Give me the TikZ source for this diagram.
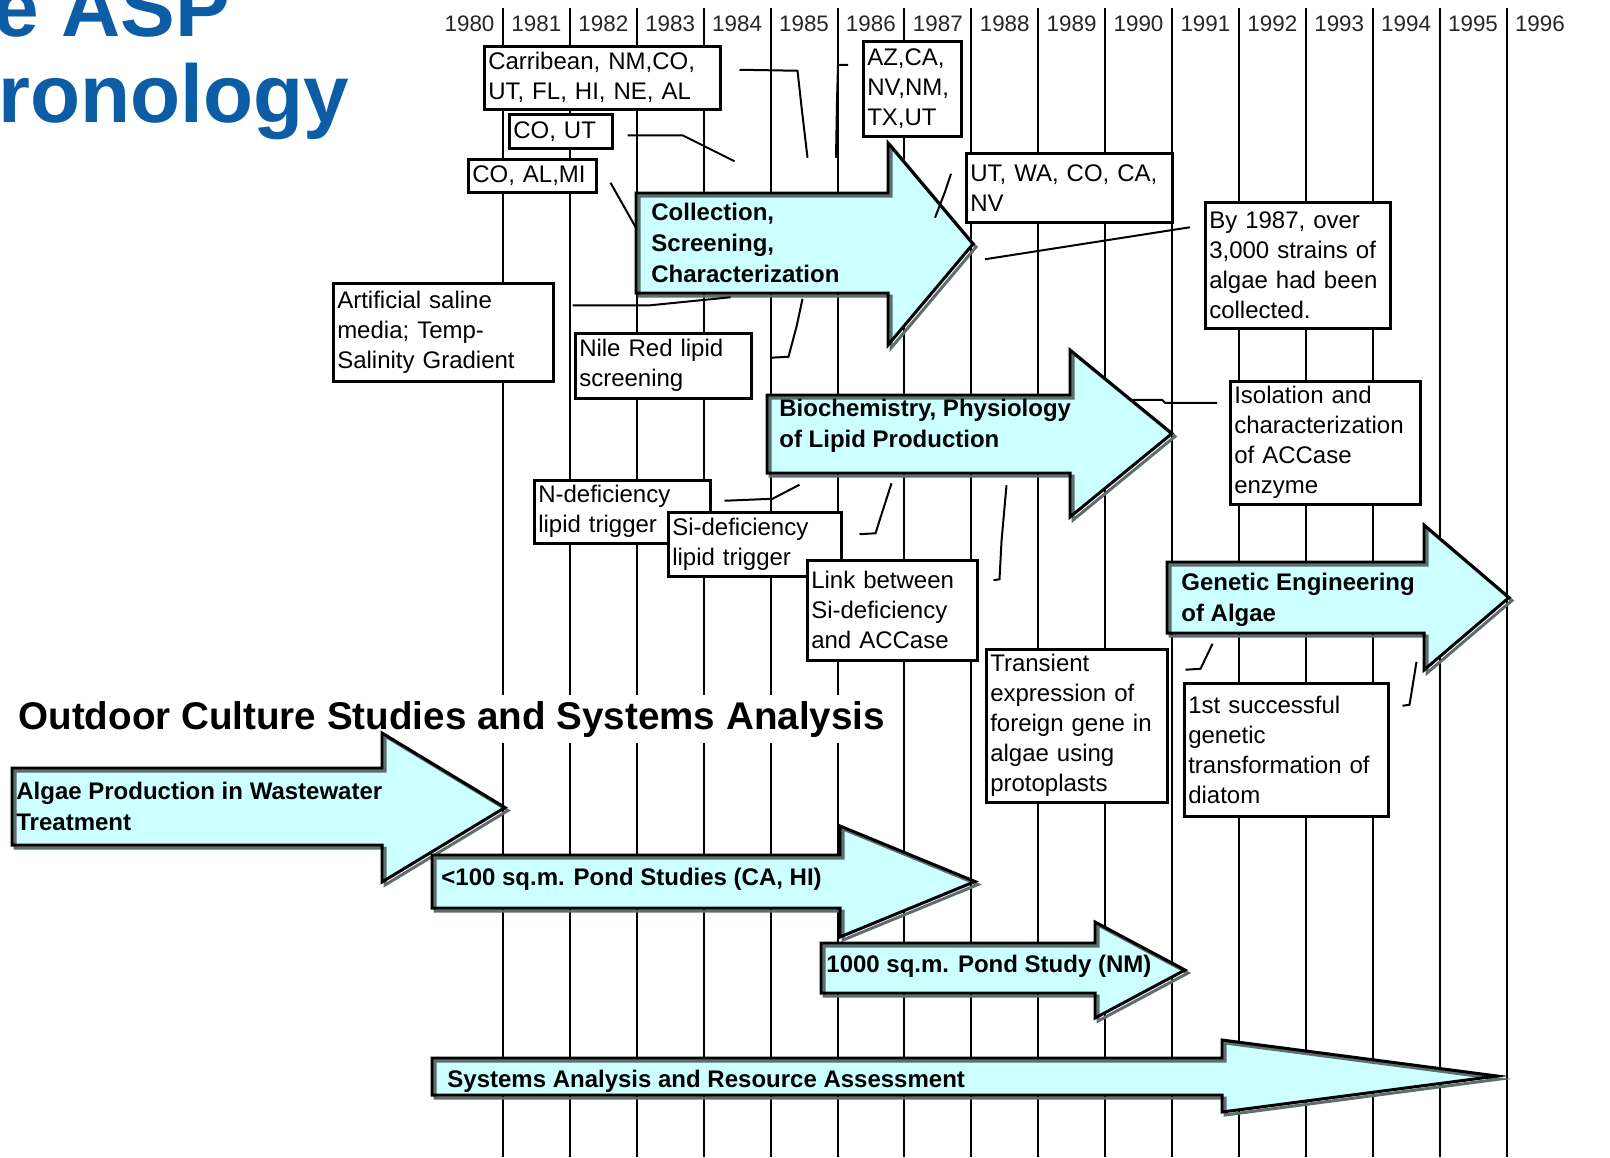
\documentclass[tikz,border=0pt]{standalone}
\usepackage{fontspec}
\setmainfont{Liberation Sans}
\usepackage{xcolor}

\definecolor{stagefill}{HTML}{CCFFFF}
\definecolor{stageshadow}{HTML}{5E6E6E}
\definecolor{titleblue}{HTML}{0C5DA5}

\tikzset{
  grid line/.style={line width=1pt},
  callout/.style={line width=1pt},
  year/.style={inner sep=0pt, text=black!85, font=\fontsize{11.2}{13}\selectfont},
  title/.style={anchor=base west, inner sep=0pt, text=titleblue, font=\fontsize{41}{41}\selectfont\bfseries},
  heading/.style={anchor=base west, fill=white, inner xsep=0pt, inner ysep=3pt, font=\fontsize{19.3}{23}\selectfont\bfseries},
  note/.style 2 args={draw, fill=white, line width=1.25pt, anchor=north west, align=left,
    inner xsep=2pt, inner ysep=0pt, text width=#1pt, minimum height=#2pt, font=\fontsize{12}{15}\selectfont},
  stage/.style={fill=stagefill},
  stage shadow/.style={draw=stageshadow, line width=1.5pt, line join=miter},
  stage edge/.style={draw=black, line width=1.5pt, line join=miter},
  stage label/.style={anchor=west, align=left, inner sep=0pt, font=\fontsize{12}{15.5}\selectfont\bfseries},
}

% tail x, body top, body bottom, head x, head top, head bottom, tip x
\newcommand{\stagearrow}[7]{%
  \fill[stage] (#1,#2) -- (#4,#2) -- (#4,#5) -- (#7,{(#5+#6)/2}) -- (#4,#6) -- (#4,#3) -- (#1,#3) -- cycle;
  \draw[stage shadow, shift={(3,3)}] (#1,#2) -- (#4,#2) -- (#4,#5) -- (#7,{(#5+#6)/2}) -- (#4,#6) -- (#4,#3) -- (#1,#3) -- cycle;
  \draw[stage edge] (#1,#2) -- (#4,#2) -- (#4,#5) -- (#7,{(#5+#6)/2}) -- (#4,#6) -- (#4,#3) -- (#1,#3) -- cycle;
}

\begin{document}
\begin{tikzpicture}[x=0.5pt, y=-0.5pt]
  \useasboundingbox (0,0) rectangle (1610,1157);

  % Title
  \node[title] (titleasp) at (-7,36) {e ASP};
  \node[title] (titlechron) at (-2,122) {ronology};

  % Years and grid
  \foreach \yr [count=\k from 0] in {1980,...,1996}
    \node[year] (y\yr) at ({469.5+66.9*\k},24) {\yr};
  \foreach \k in {0,...,15}
    \draw[grid line] ({503+66.9*\k},8) -- ({503+66.9*\k},1157);

  % Outdoor heading
  \node[heading] (outdoor) at (18,729) {Outdoor Culture Studies and Systems Analysis};

  % Research stages
  \stagearrow{636}{193}{293}{888}{143}{345}{973}
  \node[stage label] (collect) at (651,243) {Collection,\\Screening,\\Characterization};
  \stagearrow{767}{395}{473}{1070}{350}{517}{1172}
  \node[stage label] (biochem) at (779,426) {Biochemistry, Physiology\\of Lipid Production};
  \stagearrow{1167}{562}{633}{1424}{525}{670}{1509}
  \node[stage label] (genetic) at (1181,600) {Genetic Engineering\\of Algae};

  % Outdoor stages
  \stagearrow{12}{768}{845}{382}{733}{882}{505}
  \node[stage label] (waste) at (16,806) {Algae Production in Wastewater\\Treatment};
  \stagearrow{432}{855}{908}{840}{826}{937}{975}
  \node[stage label] (pond) at (441,879) {<100 sq.m. Pond Studies (CA, HI)};
  \stagearrow{821}{943}{993}{1095}{922}{1018}{1185}
  \node[stage label] (pondnm) at (826,966) {1000 sq.m. Pond Study (NM)};
  \stagearrow{432}{1058}{1095}{1222}{1040}{1112}{1497}
  \node[stage label] (systems) at (447,1081) {Systems Analysis and Resource Assessment};

  % Notes
  \node[note={114}{31.5}] (carib) at (483,45) {Carribean, NM,CO,\\UT, FL, HI, NE, AL};
  \node[note={47.5}{17}] (coU) at (508,113) {CO, UT};
  \node[note={60}{16.5}] (coal) at (467,158) {CO, AL,MI};
  \node[note={45}{47.5}] (az) at (862,40) {AZ,CA,\\NV,NM,\\TX,UT};
  \node[note={99}{34.5}] (utwa) at (965,152) {UT, WA, CO, CA,\\NV};
  \node[note={88.5}{63}] (by87) at (1204,201) {By 1987, over\\3,000 strains of\\algae had been\\collected.};
  \node[note={106}{49}] (saline) at (332,282) {Artificial saline\\media; Temp-\\Salinity Gradient};
  \node[note={84}{32.5}] (nile) at (574,332) {Nile Red lipid\\screening};
  \node[note={84}{31.5}] (ndef) at (533,479) {N-deficiency\\lipid trigger};
  \node[note={82.5}{32}] (sidef) at (667,511) {Si-deficiency\\lipid trigger};
  \node[note={81}{50}] (link) at (806,559) {Link between\\Si-deficiency\\and ACCase};
  \node[note={91}{61.5}] (accase) at (1229,380) {Isolation and\\characterization\\of ACCase\\enzyme};
  \node[note={86.5}{76.5}] (transient) at (985,648) {Transient\\expression of\\foreign gene in\\algae using\\protoplasts};
  \node[note={98}{66.5}] (diatom) at (1183,682) {1st successful\\genetic\\transformation of\\diatom};

  % Callouts
  \draw[callout] (carib.east) ++(18,-8) -- ++(58,1) -- ++(4,36) -- ++(6,51);
  \draw[callout] (az.west) ++(-14,-24) -- ++(-10,0) -- ++(-1,36) -- ++(-1,57);
  \draw[callout] (coU.east) ++(14,4) -- ++(55,0) -- ++(52,26);
  \draw[callout] (coal.east) ++(13,7) -- ++(26,46);
  \draw[callout] (utwa.west) ++(-14,-14) -- ++(-6,18) -- ++(-10,26);
  \draw[callout] (by87.west) ++(-14,-38) -- ++(-205,32);
  \draw[callout] (saline.east) ++(18,-27) -- ++(78,0) -- ++(80,-8);
  \draw[callout] (nile.east) ++(18,-8) -- ++(18,-1) -- ++(8,-30) -- ++(6,-28);
  \draw[callout] (ndef.east) ++(13,-11) -- ++(48,-2) -- ++(27,-14);
  \draw[callout] (sidef.east) ++(17,-10) -- ++(16,-1) -- ++(7,-22) -- ++(9,-28);
  \draw[callout] (link.east) ++(15,-30) -- ++(6,-1) -- ++(2,-38) -- ++(5,-56);
  \draw[callout] (accase.west) ++(-12,-40) -- ++(-52,0) -- ++(-3,-3) -- ++(-29,0);
  \draw[callout] (transient.east) ++(17,-56) -- ++(15,-1) -- ++(12,-25);
  \draw[callout] (diatom.east) ++(13,-44) -- ++(7,-1) -- ++(7,-43);
\end{tikzpicture}
\end{document}
